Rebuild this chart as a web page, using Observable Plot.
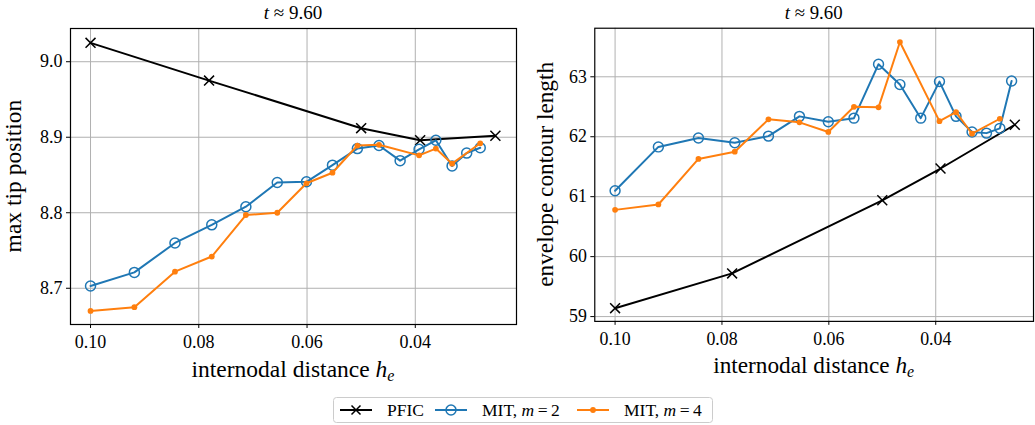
<!DOCTYPE html>
<html>
<head>
<meta charset="utf-8">
<script src="https://cdn.jsdelivr.net/npm/d3@7"></script>
<script src="https://cdn.jsdelivr.net/npm/@observablehq/plot@0.6"></script>
<style>
  body { margin: 0; background: white; }
  #wrap { position: relative; width: 1035px; height: 425px; overflow: hidden; background: white; }
  #left, #right, #legend { position: absolute; top: 0; }
  #left { left: 0; }
  #right { left: 520px; }
  #legend { left: 333px; top: 397px; }
</style>
</head>
<body>
<div id="wrap">
  <div id="left"></div>
  <div id="right"></div>
  <div id="legend"></div>
</div>
<script>
// ---- data ----
const hPFIC = [0.1, 0.0781, 0.0500, 0.0391, 0.0252];
const hMIT2 = [0.1, 0.0919, 0.0844, 0.0776, 0.0713, 0.0655, 0.0601, 0.0553, 0.0507, 0.0467, 0.0428, 0.0393, 0.0362, 0.0332, 0.0305, 0.0280, 0.0258];
const hMIT4 = [0.1, 0.0919, 0.0844, 0.0776, 0.0713, 0.0655, 0.0601, 0.0553, 0.0507, 0.0467, 0.0393, 0.0362, 0.0332, 0.0280];

// left panel: max tip position
const tipPFIC = [9.025, 8.975, 8.912, 8.896, 8.902];
const tipMIT2 = [8.703, 8.721, 8.760, 8.784, 8.808, 8.840, 8.841, 8.863, 8.885, 8.889, 8.869, 8.884, 8.896, 8.862, 8.879, 8.886];
const tipMIT4 = [8.670, 8.675, 8.722, 8.742, 8.797, 8.800, 8.839, 8.853, 8.889, 8.890, 8.876, 8.885, 8.865, 8.892];

// right panel: envelope contour length
const lenPFIC = [59.14, 59.72, 60.94, 61.47, 62.20];
const lenMIT2 = [61.10, 61.83, 61.98, 61.90, 62.01, 62.34, 62.25, 62.31, 63.21, 62.87, 62.31, 62.92, 62.34, 62.08, 62.06, 62.14, 62.93];
const lenMIT4 = [60.78, 60.87, 61.63, 61.75, 62.29, 62.24, 62.08, 62.50, 62.49, 63.58, 62.26, 62.41, 62.05, 62.30];

const xTicks = [0.10, 0.08, 0.06, 0.04];
const yTicksTip = [8.7, 8.8, 8.9, 9.0];
const yTicksLen = [59, 60, 61, 62, 63];

const seriesNames = ["PFIC", "MIT, m = 2", "MIT, m = 4"];
const colors = {pfic: "#000000", mit2: "#1f77b4", mit4: "#ff7f0e"};

const FONT = "'Liberation Serif', 'DejaVu Serif', serif";

function zip(hs, vs) { return vs.map((v, i) => ({h: hs[i], v})); }

function panel({width, marginLeft, marginRight, xDomain, yDomain, yTicks, yFmt, pfic, mit2, mit4, ylabel, ylabelX}) {
  const height = 385, marginTop = 28, marginBottom = 61;
  const chart = Plot.plot({
    width, height, marginLeft, marginRight, marginTop, marginBottom,
    style: {fontFamily: FONT, fontSize: "18px", color: "black", background: "white", overflow: "visible"},
    x: {domain: xDomain},
    y: {domain: yDomain},
    marks: [
      Plot.gridX(xTicks, {stroke: "#b0b0b0", strokeOpacity: 1, strokeWidth: 1}),
      Plot.gridY(yTicks, {stroke: "#b0b0b0", strokeOpacity: 1, strokeWidth: 1}),
      Plot.axisX(xTicks, {tickSize: 4, tickPadding: 7, tickFormat: d3.format(".2f"), label: null, fontSize: 18}),
      Plot.axisY(yTicks, {tickSize: 4, tickPadding: 4, tickFormat: yFmt, label: null, fontSize: 18}),
      Plot.line(pfic, {x: "h", y: "v", stroke: colors.pfic, strokeWidth: 2}),
      Plot.dot(pfic, {x: "h", y: "v", symbol: "times", r: 4.6, stroke: colors.pfic, strokeWidth: 1.5}),
      Plot.line(mit2, {x: "h", y: "v", stroke: colors.mit2, strokeWidth: 2}),
      Plot.dot(mit2, {x: "h", y: "v", r: 5, stroke: colors.mit2, fill: "none", strokeWidth: 1.5}),
      Plot.line(mit4, {x: "h", y: "v", stroke: colors.mit4, strokeWidth: 2}),
      Plot.dot(mit4, {x: "h", y: "v", r: 2.9, fill: colors.mit4, stroke: "none"}),
      Plot.frame({stroke: "black", strokeWidth: 1.2})
    ]
  });
  const svg = d3.select(chart);
  const cx = marginLeft + (width - marginLeft - marginRight) / 2;
  // title
  const t = svg.append("text").attr("x", cx).attr("y", 19).attr("text-anchor", "middle")
    .attr("font-family", FONT).attr("font-size", 19).attr("fill", "black");
  t.append("tspan").attr("font-style", "italic").text("t");
  t.append("tspan").text(" \u2248 9.60");
  // x label
  const xl = svg.append("text").attr("x", cx).attr("y", 377).attr("text-anchor", "middle")
    .attr("font-family", FONT).attr("font-size", 23.5).attr("fill", "black");
  xl.append("tspan").text("internodal distance ");
  xl.append("tspan").attr("font-style", "italic").text("h");
  xl.append("tspan").attr("font-style", "italic").attr("font-size", 16).attr("dy", 4).text("e");
  // y label
  svg.append("text").attr("transform", `translate(${ylabelX},${marginTop + (height - marginTop - marginBottom) / 2}) rotate(-90)`)
    .attr("text-anchor", "middle").attr("font-family", FONT).attr("font-size", 23.5).attr("fill", "black")
    .text(ylabel);
  return chart;
}

document.getElementById("left").appendChild(panel({
  width: 520, marginLeft: 70, marginRight: 4,
  xDomain: [0.1037, 0.0213], yDomain: [8.652, 9.044],
  yTicks: yTicksTip, yFmt: d3.format(".1f"),
  pfic: zip(hPFIC, tipPFIC), mit2: zip(hMIT2, tipMIT2), mit4: zip(hMIT4, tipMIT4),
  ylabel: "max tip position", ylabelX: 21
}));

document.getElementById("right").appendChild(panel({
  width: 520, marginLeft: 75, marginRight: 2,
  xDomain: [0.1038, 0.0217], yDomain: [58.92, 63.81],
  yTicks: yTicksLen, yFmt: d3.format("d"),
  pfic: zip(hPFIC, lenPFIC), mit2: zip(hMIT2, lenMIT2), mit4: zip(hMIT4, lenMIT4),
  ylabel: "envelope contour length", ylabelX: 33
}));

// ---- legend ----
(function legend() {
  const W = 380, H = 26;
  const svg = d3.select("#legend").append("svg").attr("width", W).attr("height", H)
    .style("font-family", FONT).style("overflow", "visible");
  svg.append("rect").attr("x", 0.5).attr("y", 0.5).attr("width", W - 1).attr("height", H - 1)
    .attr("rx", 3).attr("fill", "white").attr("stroke", "#cccccc");
  const items = [
    {name: seriesNames[0], color: colors.pfic, kind: "times", x0: 7, tx: 54},
    {name: seriesNames[1], color: colors.mit2, kind: "circle", x0: 102, tx: 149},
    {name: seriesNames[2], color: colors.mit4, kind: "dot", x0: 244, tx: 291}
  ];
  const cy = 13;
  for (const it of items) {
    svg.append("line").attr("x1", it.x0).attr("x2", it.x0 + 32).attr("y1", cy).attr("y2", cy)
      .attr("stroke", it.color).attr("stroke-width", 2);
    const mx = it.x0 + 16;
    if (it.kind === "times") {
      svg.append("path").attr("d", `M${mx-4.5},${cy-4.5}L${mx+4.5},${cy+4.5}M${mx-4.5},${cy+4.5}L${mx+4.5},${cy-4.5}`)
        .attr("stroke", it.color).attr("stroke-width", 1.5);
    } else if (it.kind === "circle") {
      svg.append("circle").attr("cx", mx).attr("cy", cy).attr("r", 5).attr("fill", "none")
        .attr("stroke", it.color).attr("stroke-width", 1.5);
    } else {
      svg.append("circle").attr("cx", mx).attr("cy", cy).attr("r", 2.9).attr("fill", it.color);
    }
    const txt = svg.append("text").attr("x", it.tx).attr("y", cy + 6).attr("font-size", 17.5).attr("fill", "black");
    if (it.kind === "times") {
      txt.text(it.name);
    } else {
      const parts = it.name.split("m = ");
      txt.append("tspan").text(parts[0]);
      txt.append("tspan").attr("font-style", "italic").text("m");
      txt.append("tspan").text("\u2009=\u2009" + parts[1]);
    }
  }
})();
</script>
</body>
</html>
